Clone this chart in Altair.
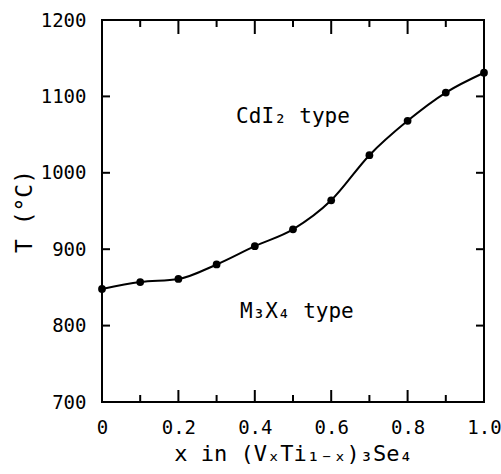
import altair as alt
import pandas as pd

# data
xs = [0.0, 0.1, 0.2, 0.3, 0.4, 0.5, 0.6, 0.7, 0.8, 0.9, 1.0]
temps = [848, 857, 861, 880, 904, 926, 964, 1023, 1068, 1105, 1131]

x_major = [0.0, 0.2, 0.4, 0.6, 0.8, 1.0]
x_minor = [0.1, 0.3, 0.5, 0.7, 0.9]
y_ticks = [700, 800, 900, 1000, 1100, 1200]

label_x = [0.50, 0.51]
label_y = [1073, 818]
label_text = ["CdI\u2082  type", "M\u2083X\u2084  type"]

FONT = "DejaVu Sans Mono"
W, H = 382, 382

pts = pd.DataFrame({"x": xs, "T": temps})
xmaj = pd.DataFrame({"x": x_major})
xmin = pd.DataFrame({"x": x_minor})
yt = pd.DataFrame({"T": y_ticks})
labels = pd.DataFrame({"x": label_x, "T": label_y, "text": label_text})

xscale = alt.Scale(domain=[0, 1], nice=False, zero=False)
yscale = alt.Scale(domain=[700, 1200], nice=False, zero=False)

xaxis = alt.Axis(
    values=x_major, grid=False, ticks=False, domain=False, labelFlush=False,
    labelExpr="datum.value == 0 ? '0' : format(datum.value, '.1f')",
    title="x in (V\u2093Ti\u2081\u208b\u2093)\u2083Se\u2084", titleFontSize=22, titlePadding=6,
)
yaxis = alt.Axis(
    values=y_ticks, grid=False, ticks=False, domain=False, format="d",
    title="T (\u00b0C)", titleFontSize=23, titlePadding=4,
)

line = alt.Chart(pts).mark_line(
    color="black", strokeWidth=2, interpolate="monotone",
    point=alt.OverlayMarkDef(filled=True, color="black", size=60, opacity=1),
).encode(
    x=alt.X("x:Q", scale=xscale, axis=xaxis),
    y=alt.Y("T:Q", scale=yscale, axis=yaxis),
)

# inward ticks on all four sides
xb_major = alt.Chart(xmaj).mark_rule(color="black", strokeWidth=2).encode(
    x=alt.X("x:Q", scale=xscale), y=alt.value(H), y2=alt.value(H - 12))
xb_minor = alt.Chart(xmin).mark_rule(color="black", strokeWidth=2).encode(
    x=alt.X("x:Q", scale=xscale), y=alt.value(H), y2=alt.value(H - 7))
xt_major = alt.Chart(xmaj).mark_rule(color="black", strokeWidth=2).encode(
    x=alt.X("x:Q", scale=xscale), y=alt.value(0), y2=alt.value(14))
xt_minor = alt.Chart(xmin).mark_rule(color="black", strokeWidth=2).encode(
    x=alt.X("x:Q", scale=xscale), y=alt.value(0), y2=alt.value(7))
yl = alt.Chart(yt).mark_rule(color="black", strokeWidth=2).encode(
    y=alt.Y("T:Q", scale=yscale), x=alt.value(0), x2=alt.value(8))
yr = alt.Chart(yt).mark_rule(color="black", strokeWidth=2).encode(
    y=alt.Y("T:Q", scale=yscale), x=alt.value(W), x2=alt.value(W - 8))

txt = alt.Chart(labels).mark_text(font=FONT, fontSize=21, color="black").encode(
    x=alt.X("x:Q", scale=xscale), y=alt.Y("T:Q", scale=yscale), text="text:N")

chart = alt.layer(line, xb_major, xb_minor, xt_major, xt_minor, yl, yr, txt).properties(
    width=W, height=H,
    autosize=alt.AutoSizeParams(type="none"),
    padding={"left": 102, "top": 20, "right": 17, "bottom": 72},
    background="white",
).configure_view(
    stroke="black", strokeWidth=2
).configure_axis(
    labelFont=FONT, labelFontSize=19, labelColor="black", labelPadding=16,
    titleFont=FONT, titleFontWeight="normal", titleColor="black",
)

chart.save("out.html", embed_options={"renderer": "svg", "actions": False})
